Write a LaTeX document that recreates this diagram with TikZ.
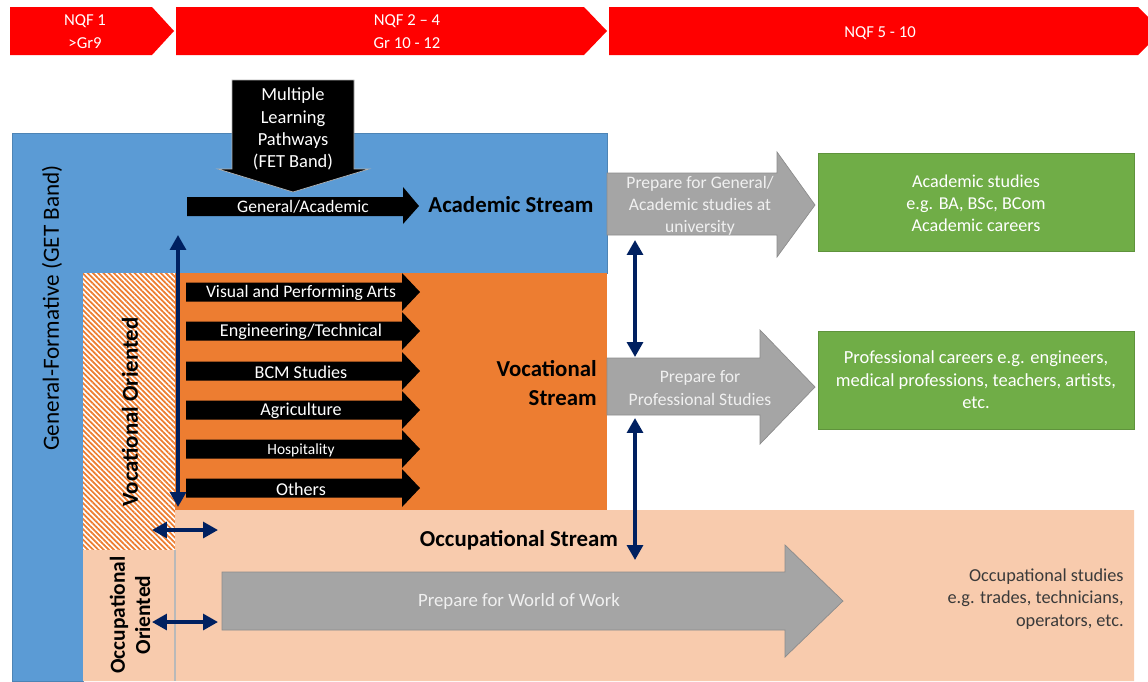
\documentclass[tikz,border=0pt]{standalone}
\usepackage{fontspec}
\setmainfont{Carlito}
\usetikzlibrary{arrows.meta,patterns.meta}
\definecolor{redC}{HTML}{FF0000}
\definecolor{blueC}{HTML}{5B9BD5}
\definecolor{orangeC}{HTML}{ED7D31}
\definecolor{peachC}{HTML}{F8CBAD}
\definecolor{greenC}{HTML}{70AD47}
\definecolor{grayC}{HTML}{A5A5A5}
\definecolor{navyC}{HTML}{002060}
\definecolor{lightT}{HTML}{F0F0F0}
\definecolor{darkT}{HTML}{3A3A3A}
\begin{document}
\begin{tikzpicture}[x=0.02cm,y=-0.02cm,
  txt/.style={font=\fontsize{10}{12.6}\selectfont, inner sep=0pt, align=center},
  wtxt/.style={txt,text=white},
  btxt/.style={font=\bfseries\fontsize{13}{16.5}\selectfont, inner sep=0pt, text=black},
  rtxt/.style={inner sep=0pt, align=center, rotate=90},
  blackarrow/.style={fill=black},
  grayarrow/.style={fill=grayC, draw=grayC!85!black, line width=0.4pt},
  greenbox/.style={fill=greenC, draw=greenC!85!black, line width=0.4pt},
  link/.style={draw=navyC, line width=2pt, {Triangle[length=8.5pt,width=9pt]}-{Triangle[length=8.5pt,width=9pt]}}
]
\useasboundingbox (0,0) rectangle (1148,681);
\clip (0,0) rectangle (1148,681);

% ---- top banner ----
\fill[redC] (10,7) -- (152,7) -- (174,31) -- (152,55) -- (10,55) -- cycle;
\fill[redC] (176,7) -- (584,7) -- (607,31) -- (584,55) -- (176,55) -- cycle;
\fill[redC] (609,7) -- (1138,7) -- (1162,31) -- (1138,55) -- (609,55) -- cycle;
\node[wtxt, font=\fontsize{9.5}{13}\selectfont] (nqf1) at (85,32) {NQF 1\\>Gr9};
\node[wtxt, font=\fontsize{9.5}{13}\selectfont] (nqf2) at (407,32) {NQF 2 – 4\\Gr 10 - 12};
\node[wtxt, font=\fontsize{9.5}{13}\selectfont] (nqf5) at (880,33) {NQF 5 - 10};

% ---- main regions ----
\filldraw[fill=blueC, draw=blueC!85!black, line width=0.4pt]
  (12,133) -- (607,133) -- (607,273) -- (83,273) -- (83,681) -- (12,681) -- cycle;
\fill[orangeC] (175,273) rectangle (607,510);
\fill[white] (83,273) rectangle (175,550);
\fill[pattern={Lines[angle=-45,distance=2.1pt,line width=1pt]}, pattern color=orangeC]
  (83,273) rectangle (175,550);
\fill[peachC] (175,510) -- (1134,510) -- (1134,681) -- (83,681) -- (83,550) -- (175,550) -- cycle;
\draw[gray!55, line width=0.9pt] (175,550) -- (175,681);

% ---- multiple learning pathways ----
\filldraw[blackarrow, draw=gray!60, line width=0.4pt]
  (232,80) -- (354,80) -- (354,169) -- (369,169) -- (293,192) -- (218,169) -- (232,169) -- cycle;
\node[wtxt, font=\fontsize{10.5}{12.6}\selectfont] (mlp) at (293,129) {Multiple\\Learning\\Pathways\\(FET Band)};

% ---- general academic ----
\fill[blackarrow] (187,197) -- (403,197) -- (403,187) -- (419,206) -- (403,224) -- (403,216) -- (187,216) -- cycle;
\node[wtxt] (ga) at (303,207) {General/Academic};
\node[btxt] (acs) at (511,205) {Academic Stream};

% ---- vocational arrows ----
\foreach \yy/\lab/\nn/\fs in {292/{Visual and Performing Arts}/va/10, 331/{Engineering/Technical}/et/10.3,
    371/{BCM Studies}/bcm/10.3, 410/{Agriculture}/agr/10.3, 449/{Hospitality}/hos/8.8, 488/{Others}/oth/10.3}{
  \fill[blackarrow] (186,\yy-9.5) -- (402,\yy-9.5) -- (402,\yy-19) -- (420,\yy) -- (402,\yy+19)
    -- (402,\yy+9.5) -- (186,\yy+9.5) -- cycle;
  \node[wtxt, font=\fontsize{\fs}{12}\selectfont] (\nn) at (301,\yy+1) {\lab};
}
\node[btxt, anchor=east, align=right] (vs) at (597,383) {Vocational\\Stream};

% ---- occupational ----
\node[btxt] (os) at (519,540) {Occupational Stream};
\fill[grayarrow] (222,572) -- (785,572) -- (785,545) -- (843,601) -- (785,657) -- (785,630) -- (222,630) -- cycle;
\node[txt, text=lightT, font=\fontsize{10.7}{13}\selectfont] (pww) at (519,601) {Prepare for World of Work};
\node[txt, text=darkT, align=right, anchor=east, font=\fontsize{10.4}{12.6}\selectfont] (occ) at (1124,599)
  {Occupational studies\\e.g. trades, technicians,\\operators, etc.};

% ---- right column ----
\filldraw[grayarrow] (607,173) -- (777,173) -- (777,152) -- (815,205) -- (777,257) -- (777,235) -- (607,235) -- cycle;
\node[txt, text=lightT] (pga) at (700,206) {Prepare for General/\\Academic studies at\\university};
\filldraw[grayarrow] (607,358) -- (760,358) -- (760,330) -- (815,387) -- (760,444) -- (760,415) -- (607,415) -- cycle;
\node[txt, text=lightT] (pps) at (700,388) {Prepare for\\Professional Studies};

\filldraw[greenbox] (818,153) rectangle (1134,251);
\node[wtxt, font=\fontsize{10.3}{12.6}\selectfont] (acad) at (976,203) {Academic studies\\e.g. BA, BSc, BCom\\Academic careers};
\filldraw[greenbox] (818,331) rectangle (1134,429);
\node[wtxt, font=\fontsize{10.5}{12.8}\selectfont] (prof) at (976,380) {Professional careers e.g. engineers,\\medical professions, teachers, artists,\\etc.};

% ---- rotated labels ----
\node[rtxt, font=\fontsize{13.2}{15}\selectfont] (gf) at (52,308) {General-Formative (GET Band)};
\node[rtxt, font=\bfseries\fontsize{13}{15}\selectfont] (vo) at (130,412) {Vocational Oriented};
\node[rtxt, font=\bfseries\fontsize{12.2}{14.3}\selectfont] (oo) at (130,615) {Occupational\\Oriented};

% ---- navy connectors ----
\coordinate (v1a) at (178,235);
\coordinate (v1b) at (178,507);
\coordinate (h1a) at (152,530);
\coordinate (h1b) at (218,530);
\coordinate (h2a) at (152,622);
\coordinate (h2b) at (218,622);
\coordinate (r1a) at (635,240);
\coordinate (r1b) at (635,357);
\coordinate (r2a) at (635,418);
\coordinate (r2b) at (635,560);
\draw[link] (v1a) -- (v1b);
\draw[link] (h1a) -- (h1b);
\draw[link] (h2a) -- (h2b);
\draw[link] (r1a) -- (r1b);
\draw[link] (r2a) -- (r2b);
\end{tikzpicture}
\end{document}
